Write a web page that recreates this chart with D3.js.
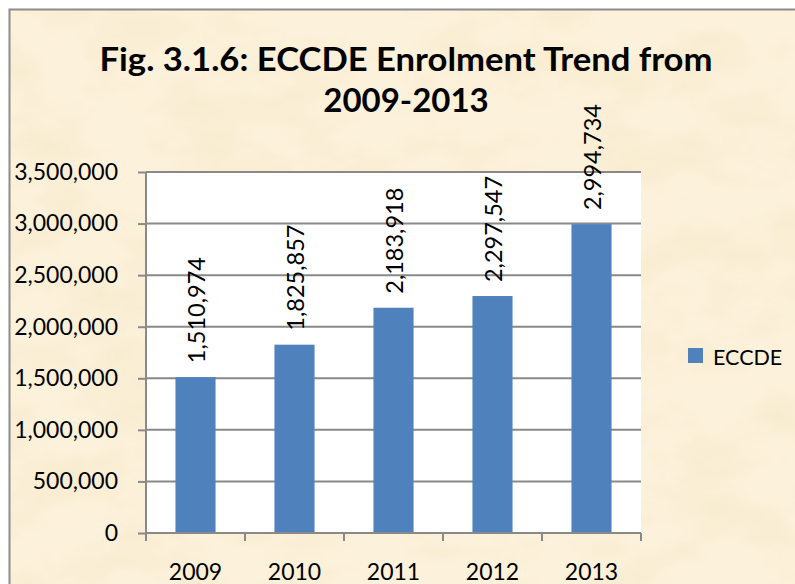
<!DOCTYPE html>
<html>
<head>
<meta charset="utf-8">
<script src="https://cdn.jsdelivr.net/npm/d3@7"></script>
<style>
  html, body { margin: 0; padding: 0; background: #fff; }
  svg { display: block; }
  text { font-family: Lato, "Open Sans", "Liberation Sans", sans-serif; fill: #000; }
</style>
</head>
<body>
<div id="chart"></div>
<script>
/* data */
var years = ['2009', '2010', '2011', '2012', '2013'];
var enrolment = [1510974, 1825857, 2183918, 2297547, 2994734];
var yTicks = [0, 500000, 1000000, 1500000, 2000000, 2500000, 3000000, 3500000];
var seriesName = 'ECCDE';
var titleLines = ['Fig. 3.1.6: ECCDE Enrolment Trend from', '2009-2013'];

/* setup */
var iWidth = 795,
    iHeight = 584,
    plotLeft = 146,
    plotRight = 641,
    plotTop = 172,
    plotBottom = 533,
    barColor = '#4f81bd',
    lineColor = '#898989';

var svg = d3.select('#chart').append('svg')
    .attr('width', iWidth)
    .attr('height', iHeight);

// parchment-ish background
var defs = svg.append('defs');
var paper = defs.append('filter')
    .attr('id', 'paper')
    .attr('x', 0).attr('y', 0).attr('width', '100%').attr('height', '100%');
paper.append('feTurbulence')
    .attr('type', 'fractalNoise')
    .attr('baseFrequency', '0.012 0.022')
    .attr('numOctaves', 4)
    .attr('seed', 7);
paper.append('feColorMatrix')
    .attr('type', 'matrix')
    .attr('values', '0 0 0 0 0.88  0 0 0 0 0.76  0 0 0 0 0.52  0 0 0 0.9 -0.38');

svg.append('rect')
    .attr('x', 9.5).attr('y', 9.5)
    .attr('width', 800).attr('height', 600)
    .attr('fill', '#fcf1da');
svg.append('rect')
    .attr('x', 10).attr('y', 10)
    .attr('width', 800).attr('height', 600)
    .attr('filter', 'url(#paper)');
svg.append('rect')
    .attr('x', 9.5).attr('y', 9.5)
    .attr('width', 800).attr('height', 600)
    .attr('fill', 'none')
    .attr('stroke', '#8c8c8c')
    .attr('stroke-width', 2);

/* title */
svg.append('text')
    .attr('x', 406).attr('y', 71)
    .attr('text-anchor', 'middle')
    .attr('font-size', 33)
    .attr('font-weight', 'bold')
    .attr('textLength', 613)
    .attr('lengthAdjust', 'spacingAndGlyphs')
    .text(titleLines[0]);
svg.append('text')
    .attr('x', 406).attr('y', 112)
    .attr('text-anchor', 'middle')
    .attr('font-size', 33)
    .attr('font-weight', 'bold')
    .text(titleLines[1]);

/* scales */
var x = d3.scaleBand()
    .domain(years)
    .range([plotLeft, plotRight]);

var y = d3.scaleLinear()
    .domain([0, 3500000])
    .range([plotBottom, plotTop]);

// plot area
svg.append('rect')
    .attr('x', plotLeft).attr('y', plotTop)
    .attr('width', plotRight - plotLeft)
    .attr('height', plotBottom - plotTop)
    .attr('fill', '#fff');

// gridlines
svg.append('g').selectAll('line')
    .data(yTicks.slice(1))
    .enter().append('line')
    .attr('x1', plotLeft).attr('x2', plotRight)
    .attr('y1', function (d) { return y(d); })
    .attr('y2', function (d) { return y(d); })
    .attr('stroke', lineColor)
    .attr('stroke-width', 2);

// bars
var barW = x.bandwidth() * 0.405;
svg.append('g').selectAll('rect')
    .data(enrolment)
    .enter().append('rect')
    .attr('x', function (d, i) { return x(years[i]) + (x.bandwidth() - barW) / 2; })
    .attr('y', function (d) { return y(d); })
    .attr('width', barW)
    .attr('height', function (d) { return plotBottom - y(d); })
    .attr('fill', barColor);

// data labels, rotated
svg.append('g').selectAll('text')
    .data(enrolment)
    .enter().append('text')
    .attr('transform', function (d, i) {
        return 'translate(' + (x(years[i]) + x.bandwidth() / 2) + ',' + (y(d) - 14) + ') rotate(-90)';
    })
    .attr('y', 9)
    .attr('font-size', 23.5)
    .text(function (d) { return d3.format(',')(d); });

/* axes */
var yAxis = svg.append('g')
    .attr('transform', 'translate(' + plotLeft + ',0)')
    .call(d3.axisLeft(y)
        .tickValues(yTicks)
        .tickFormat(d3.format(','))
        .tickSize(8)
        .tickPadding(20));
yAxis.select('.domain').remove();
yAxis.selectAll('line').attr('stroke', lineColor).attr('stroke-width', 2);
yAxis.selectAll('text')
    .attr('font-family', 'Lato, "Open Sans", sans-serif')
    .attr('font-size', 23)
    .attr('fill', '#000');
yAxis.append('line')
    .attr('x1', 0).attr('x2', 0)
    .attr('y1', plotTop).attr('y2', plotBottom + 8)
    .attr('stroke', lineColor)
    .attr('stroke-width', 2);

var xAxis = svg.append('g')
    .attr('transform', 'translate(0,' + plotBottom + ')')
    .call(d3.axisBottom(x).tickSize(0));
xAxis.select('.domain').remove();
xAxis.selectAll('text')
    .attr('font-family', 'Lato, "Open Sans", sans-serif')
    .attr('font-size', 23)
    .attr('fill', '#000')
    .attr('y', 47)
    .attr('dy', 0);
xAxis.append('line')
    .attr('x1', plotLeft).attr('x2', plotRight)
    .attr('y1', 0).attr('y2', 0)
    .attr('stroke', lineColor)
    .attr('stroke-width', 2);
// category boundary ticks
xAxis.append('g').selectAll('line')
    .data(years.map(function (d) { return x(d); }).concat([plotRight]))
    .enter().append('line')
    .attr('x1', function (d) { return d; })
    .attr('x2', function (d) { return d; })
    .attr('y1', 0).attr('y2', 8)
    .attr('stroke', lineColor)
    .attr('stroke-width', 2);

/* legend */
var legend = svg.append('g').attr('transform', 'translate(688,348)');
legend.append('rect')
    .attr('width', 15).attr('height', 15)
    .attr('fill', barColor);
legend.append('text')
    .attr('x', 25).attr('y', 16.5)
    .attr('font-size', 21.5)
    .text(seriesName);
</script>
</body>
</html>
